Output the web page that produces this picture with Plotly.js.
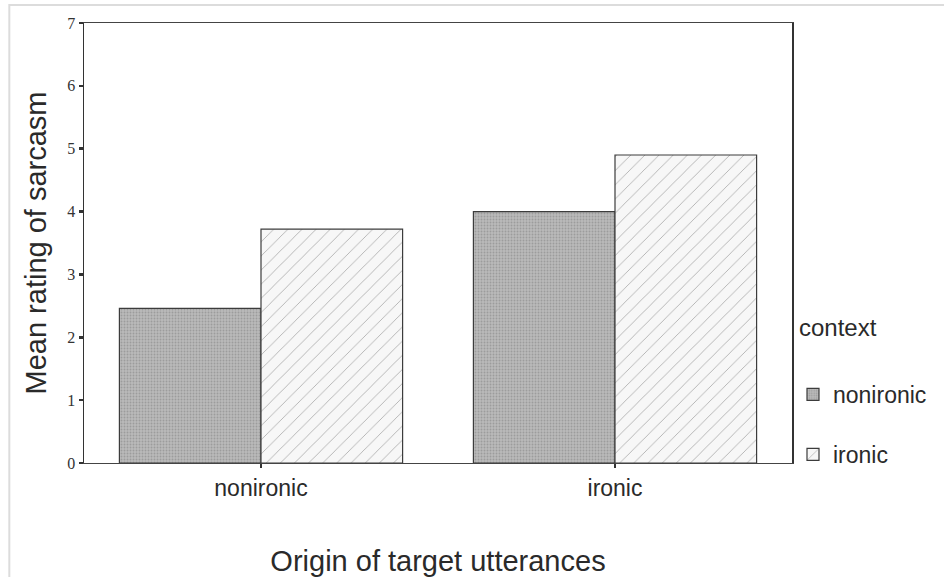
<!DOCTYPE html>
<html>
<head>
<meta charset="utf-8">
<script src="https://cdn.plot.ly/plotly-3.0.1.min.js"></script>
<style>html,body{margin:0;padding:0;background:#fff;}#chart{width:944px;height:577px;}</style>
</head>
<body>
<div id="chart"></div>
<script>
// Data
var categories = ['nonironic', 'ironic'];
var seriesNames = ['nonironic', 'ironic'];
var nonironicContext = [2.46, 4.00];
var ironicContext = [3.72, 4.90];
var yTickVals = [0, 1, 2, 3, 4, 5, 6, 7];

var L = 84, R = 795, T = 23, B = 463, W = 944, H = 577;
function px(x) { return (x - L) / (R - L); }
function py(y) { return (B - y) / (B - T); }

var traces = [
  {
    type: 'bar', name: seriesNames[0], x: categories, y: nonironicContext,
    legendgroup: 'a',
    marker: {
      color: '#b4b4b4',
      line: {color: '#3c3c3c', width: 1.2},
      pattern: {shape: '.', fgcolor: '#9c9c9c', bgcolor: '#bababa', size: 3, solidity: 0.3}
    },
    hoverinfo: 'skip'
  },
  {
    type: 'bar', name: seriesNames[1], x: categories, y: ironicContext,
    legendgroup: 'b',
    marker: {
      color: '#f6f6f6',
      line: {color: '#3c3c3c', width: 1.2},
      pattern: {shape: '/', fgcolor: '#a8a8a8', bgcolor: '#f7f7f7', size: 10, solidity: 0.08}
    },
    hoverinfo: 'skip'
  }
];

var layout = {
  width: W, height: H,
  margin: {l: L, r: W - R, t: T, b: H - B, pad: 0},
  paper_bgcolor: '#ffffff', plot_bgcolor: '#ffffff',
  barmode: 'group', bargap: 0.2, bargroupgap: 0,
  showlegend: true,
  font: {family: 'Liberation Sans, Arial, sans-serif', color: '#2a2a2a'},
  xaxis: {
    type: 'category', range: [-0.5, 1.5],
    showline: true, linecolor: '#444', linewidth: 1.2, mirror: true,
    ticks: 'outside', ticklen: 4, tickwidth: 2.5, tickcolor: '#333',
    tickfont: {family: 'Liberation Sans, Arial, sans-serif', size: 23, color: '#2a2a2a'},
    showgrid: false, zeroline: false, automargin: false,
    title: {text: 'Origin of target utterances', font: {size: 29, color: '#2a2a2a'}, standoff: 55}
  },
  yaxis: {
    range: [0, 7], tickvals: yTickVals, ticktext: yTickVals.map(String),
    showline: true, linecolor: '#333', linewidth: 1.5, mirror: true,
    ticks: 'outside', ticklen: 4, tickwidth: 2.5, tickcolor: '#333',
    tickfont: {family: 'Liberation Serif, Times New Roman, serif', size: 16, color: '#333'},
    showgrid: false, zeroline: false, automargin: false,
    title: {text: 'Mean rating of sarcasm', font: {size: 29, color: '#2a2a2a'}, standoff: 12}
  },
  legend: {
    x: px(796), y: py(373), xanchor: 'left', yanchor: 'top',
    tracegroupgap: 27, traceorder: 'grouped',
    font: {size: 23, color: '#2a2a2a'},
    bgcolor: 'rgba(0,0,0,0)', itemwidth: 30
  },
  annotations: [
    {xref: 'paper', yref: 'paper', x: px(800), y: py(327), xanchor: 'left', yanchor: 'middle',
     text: 'context', showarrow: false, font: {size: 24, color: '#2a2a2a'}}
  ],
  shapes: [
    {type: 'rect', xref: 'paper', yref: 'paper', x0: px(9), x1: px(960), y0: py(5), y1: py(600),
     line: {color: '#dcdcdc', width: 2}, fillcolor: 'rgba(0,0,0,0)', layer: 'below'}
  ]
};

Plotly.newPlot('chart', traces, layout, {staticPlot: true, displayModeBar: false});
</script>
</body>
</html>
